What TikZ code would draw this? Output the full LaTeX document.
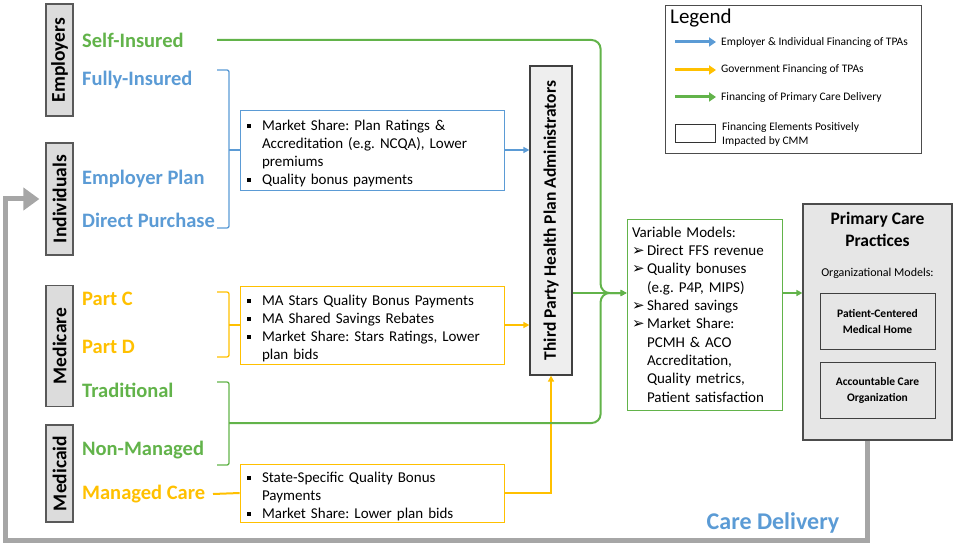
\documentclass[tikz,border=0pt]{standalone}
\usepackage{fontspec}
\setmainfont{Carlito}
\newfontfamily\arrowfont{DejaVu Sans}
\usepackage{tikz}
\usetikzlibrary{arrows.meta}
\frenchspacing

\definecolor{finblue}{HTML}{5B9BD5}
\definecolor{govyellow}{HTML}{FFC000}
\definecolor{caregreen}{HTML}{62B34A}
\definecolor{payergray}{HTML}{DCDCDC}
\definecolor{tpagray}{HTML}{EEEEEE}
\definecolor{pcgray}{HTML}{E6E6E6}
\definecolor{loopgray}{HTML}{A6A6A6}

\newcommand{\sqbullet}{\par\hangindent=16pt\hangafter=1\noindent\makebox[16pt][l]{\hspace{1pt}\rule[3pt]{4pt}{4pt}}}
\newcommand{\arrbullet}{\par\hangindent=15pt\hangafter=1\noindent\makebox[15pt][l]{\arrowfont\fontsize{15}{15}\selectfont ➢}}

\begin{document}
\begin{tikzpicture}[x=1pt, y=-1pt, >={Triangle[length=6pt, width=6pt]},
    payer/.style={draw=black!65, fill=payergray, line width=1.2pt, rotate=90, minimum height=27pt, inner sep=0pt, font=\fontsize{19.5}{22}\selectfont\bfseries},
    source/.style={anchor=west, inner sep=0pt, font=\fontsize{20.5}{23}\selectfont\bfseries},
    incentive/.style={draw, line width=0.8pt, fill=white, text width=252pt, align=left, inner xsep=6pt, inner ysep=0pt, font=\fontsize{15}{18}\selectfont},
    orgbox/.style={draw=black!75, fill=pcgray, line width=1pt, minimum width=115pt, minimum height=56pt, align=center, font=\fontsize{11.5}{16}\selectfont\bfseries},
    legtext/.style={anchor=west, inner sep=0pt, font=\fontsize{11.5}{14}\selectfont},
    flow/.style={line width=2pt},
    bracket/.style={line width=1.3pt, rounded corners=2pt}]

    \useasboundingbox (0,0) rectangle (960,545);

    \node (employers) [payer, minimum width=112pt] at (59.5,60) {Employers};
    \node (individuals) [payer, minimum width=112pt] at (59.5,199) {Individuals};
    \node (medicare) [payer, minimum width=121pt] at (59.5,346) {Medicare};
    \node (medicaid) [payer, minimum width=97pt] at (59.5,473.5) {Medicaid};

    \node (selfins) [source, text=caregreen] at (82,40) {Self-Insured};
    \node (fullyins) [source, text=finblue] at (82,80) {Fully-Insured};
    \node (emplan) [source, text=finblue] at (82,179) {Employer Plan};
    \node (directp) [source, text=finblue] at (82,220) {Direct Purchase};
    \node (partc) [source, text=govyellow] at (82,299) {Part C};
    \node (partd) [source, text=govyellow] at (82,347) {Part D};
    \node (traditional) [source, text=caregreen] at (82,390) {Traditional};
    \node (nonmanaged) [source, text=caregreen] at (82,450) {Non-Managed};
    \node (managed) [source, text=govyellow] at (82,494) {Managed Care};

    \node (planshare) [incentive, draw=finblue, minimum height=80pt] at (372,150) {\sqbullet Market Share: Plan Ratings \&\newline Accreditation (e.g. NCQA), Lower\newline premiums \sqbullet Quality bonus payments\par};
    \node (mastars) [incentive, draw=govyellow, minimum height=78pt] at (372,325) {\sqbullet MA Stars Quality Bonus Payments \sqbullet MA Shared Savings Rebates \sqbullet Market Share: Stars Ratings, Lower\newline plan bids\par};
    \node (statebonus) [incentive, draw=govyellow, minimum height=58pt] at (372,493) {\sqbullet State-Specific Quality Bonus\newline Payments \sqbullet Market Share: Lower plan bids\par};

    \node (tpa) [draw=black!75, fill=tpagray, line width=1.2pt, rotate=90, minimum width=309pt, minimum height=42pt, inner sep=0pt, font=\fontsize{17.5}{20}\selectfont\bfseries] at (551,220.5) {Third Party Health Plan Administrators};

    \node (varmodels) [draw=caregreen, line width=0.8pt, text width=145pt, minimum height=191pt, inner xsep=5pt, inner ysep=0pt, align=left, font=\fontsize{15}{18.3}\selectfont] at (704.5,314.5) {\noindent Variable Models: \arrbullet Direct FFS revenue \arrbullet Quality bonuses\newline (e.g. P4P, MIPS) \arrbullet Shared savings \arrbullet Market Share:\newline PCMH \& ACO\newline Accreditation,\newline Quality metrics,\newline Patient satisfaction\par};

    \node (pcp) [draw=black!70, fill=pcgray, line width=1.2pt, minimum width=149pt, minimum height=236pt] at (877.5,322) {};
    \node (pcptitle) [align=center, font=\fontsize{17.5}{22.5}\selectfont\bfseries] at (877.5,229.5) {Primary Care\\Practices};
    \node (orgmodels) [font=\fontsize{12}{14}\selectfont, below of=pcptitle, node distance=43.5pt] {Organizational Models:};
    \node (pcmh) [orgbox, below of=orgmodels, node distance=48pt] {Patient-Centered\\Medical Home};
    \node (aco) [orgbox, below of=pcmh, node distance=69.5pt] {Accountable Care\\Organization};

    \node (caredelivery) [text=finblue, font=\fontsize{24}{28}\selectfont\bfseries] at (773,523) {Care Delivery};

    \node (legend) [draw=black!70, line width=0.8pt, minimum width=256pt, minimum height=148pt] at (793,79) {};
    \node (legendtitle) [anchor=west, inner sep=0pt, font=\fontsize{21}{24}\selectfont] at (670,18) {Legend};
    \node (lgblue) [legtext] at (721,42) {Employer \& Individual Financing of TPAs};
    \node (lgyellow) [legtext] at (721,70) {Government Financing of TPAs};
    \node (lggreen) [legtext] at (721,97) {Financing of Primary Care Delivery};
    \node (lgbox) [legtext, align=left] at (722,134) {Financing Elements Positively\\Impacted by CMM};
    \node (lgsample) [draw=black!80, line width=0.8pt, minimum width=40pt, minimum height=18pt, inner sep=0pt] at (695,133) {};

    \coordinate (selfstart) at (217,40);
    \coordinate (mgdstart) at (213,494);
    \coordinate (bluebr) at (229,150);
    \coordinate (yellowbr) at (229,325);
    \coordinate (greenbr) at (229,423);
    \coordinate (varin) at ([yshift=21.5pt]varmodels.west);
    \coordinate (varout) at ([yshift=21.5pt]varmodels.east);

    \draw [bracket, finblue] (217,70) -- (229,70) -- (229,228) -- (217,228);
    \draw [bracket, govyellow] (217,292) -- (229,292) -- (229,357) -- (217,357);
    \draw [bracket, caregreen] (217,382) -- (229,382) -- (229,465) -- (217,465);
    \draw [bracket, finblue] (bluebr) -- (planshare.west);
    \draw [bracket, govyellow] (yellowbr) -- (mastars.west);
    \draw [flow, govyellow] (mgdstart) -- (statebonus.west);

    \draw [flow, finblue, ->] (planshare.east) -- (planshare.east -| tpa.north);
    \draw [flow, govyellow, ->] (mastars.east) -- (mastars.east -| tpa.north);
    \draw [flow, govyellow, ->] (statebonus.east) -| (tpa.west);

    \draw [flow, caregreen, rounded corners=9pt, ->] (selfstart) -| ([xshift=-26pt]varin) -- (varin);
    \draw [flow, caregreen, rounded corners=9pt, ->] (greenbr) -| ([xshift=-26pt]varin) -- (varin);
    \draw [flow, caregreen, ->] (tpa.south |- varin) -- (varin);
    \draw [flow, caregreen, ->] (varout) -- (varout -| pcp.west);

    \draw [line width=5pt, loopgray, -{Triangle[length=16pt, width=22pt]}] ([xshift=-10pt]pcp.south) -- ++(0,100) -| ([xshift=-40pt]individuals.north) -- ([xshift=-6pt]individuals.north);

    \draw [line width=3pt, finblue, -{Triangle[length=7pt, width=9pt]}] ([xshift=-46pt]lgblue.west) -- ([xshift=-5pt]lgblue.west);
    \draw [line width=3pt, govyellow, -{Triangle[length=7pt, width=9pt]}] ([xshift=-46pt]lgyellow.west) -- ([xshift=-5pt]lgyellow.west);
    \draw [line width=3pt, caregreen, -{Triangle[length=7pt, width=9pt]}] ([xshift=-46pt]lggreen.west) -- ([xshift=-5pt]lggreen.west);
\end{tikzpicture}
\end{document}
